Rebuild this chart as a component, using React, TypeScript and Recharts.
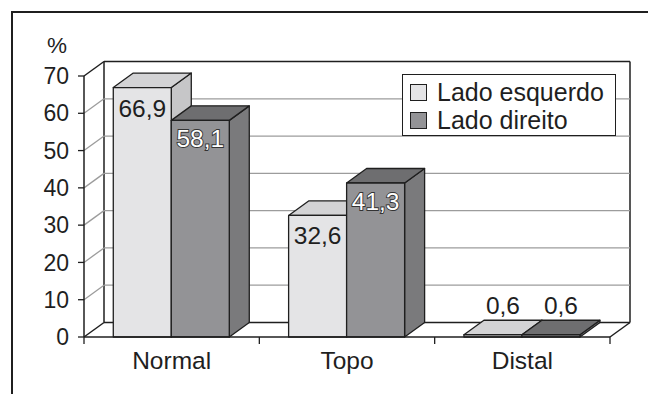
import React from 'react';
import { BarChart, Bar, XAxis, YAxis, CartesianGrid, Legend, LabelList, Label } from 'recharts';

// categories and percentages per side
const categories = ['Normal', 'Topo', 'Distal'];
const ladoEsquerdo = [66.9, 32.6, 0.6];
const ladoDireito = [58.1, 41.3, 0.6];
const yTicks = [0, 10, 20, 30, 40, 50, 60, 70];
const seriesNames = ['Lado esquerdo', 'Lado direito'];

const data = categories.map((name, i) => ({
  name,
  esquerdo: ladoEsquerdo[i],
  direito: ladoDireito[i],
}));

const W = 648;
const H = 394;
const MARGIN = { top: 76, right: 38, bottom: 17, left: 24 };
const Y_AXIS_W = 60;
const X_AXIS_H = 40;
const PLOT_LEFT = MARGIN.left + Y_AXIS_W;
const PLOT_RIGHT = W - MARGIN.right;
const PLOT_TOP = MARGIN.top;
const PLOT_BOTTOM = H - MARGIN.bottom - X_AXIS_H;
const BAND = (PLOT_RIGHT - PLOT_LEFT) / categories.length;

// depth of the fake 3D walls and boxes
const DX = 20;
const DY = 14.5;

const FONT = '"Liberation Sans", Arial, Helvetica, sans-serif';
const INK = '#1f1f1f';
const GRID = '#9c9c9c';

const LIGHT = { front: '#e4e4e6', top: '#d3d3d5', side: '#c6c6c8' };
const DARK = { front: '#939396', top: '#6e6e70', side: '#7a7a7c' };

const fmt = (v: number) => v.toFixed(1).replace('.', ',');

// back wall + left wall lines, one call per y tick
const wallLine = (props: any) => {
  const { x1, y1, x2, index } = props;
  const isFloor = Math.abs(y1 - PLOT_BOTTOM) < 0.5;
  const isTop = Math.abs(y1 - PLOT_TOP) < 0.5;
  const edge = isFloor || isTop;
  const stroke = edge ? INK : GRID;
  const sw = edge ? 1.5 : 1.3;
  return (
    <g key={`wall-${index}`}>
      <line x1={x1} y1={y1} x2={x1 + DX} y2={y1 - DY} stroke={stroke} strokeWidth={sw} />
      <line x1={x1 + DX} y1={y1 - DY} x2={x2 + DX} y2={y1 - DY} stroke={stroke} strokeWidth={sw} />
      {isFloor && (
        <>
          <line x1={x2} y1={y1} x2={x2 + DX} y2={y1 - DY} stroke={INK} strokeWidth={1.5} />
          <line x1={x1 + DX} y1={PLOT_TOP - DY} x2={x1 + DX} y2={y1 - DY} stroke={INK} strokeWidth={1.5} />
          <line x1={x2 + DX} y1={PLOT_TOP - DY} x2={x2 + DX} y2={y1 - DY} stroke={INK} strokeWidth={1.5} />
        </>
      )}
    </g>
  );
};

const Box3D = (props: any) => {
  const { x, y, width: w, height: h, palette } = props;
  if (w == null || h == null) return null;
  const edge = { stroke: INK, strokeWidth: 1.3, strokeLinejoin: 'round' as const };
  return (
    <g>
      <polygon
        points={`${x + w},${y} ${x + w + DX},${y - DY} ${x + w + DX},${y + h - DY} ${x + w},${y + h}`}
        fill={palette.side}
        {...edge}
      />
      <polygon
        points={`${x},${y} ${x + DX},${y - DY} ${x + w + DX},${y - DY} ${x + w},${y}`}
        fill={palette.top}
        {...edge}
      />
      <rect x={x} y={y} width={w} height={h} fill={palette.front} {...edge} />
    </g>
  );
};

const barLabel = (outlined: boolean) => (props: any) => {
  const { x, y, width, height, value, index } = props;
  const cx = x + width / 2;
  const text = fmt(Number(value));
  if (height < 30) {
    return (
      <text key={`lbl-${index}`} x={cx + DX / 2} y={y - 20.5} textAnchor="middle" fontSize={24.5} fill={INK} fontFamily={FONT}>
        {text}
      </text>
    );
  }
  if (outlined) {
    return (
      <text
        key={`lbl-${index}`}
        x={cx}
        y={y + 27}
        textAnchor="middle"
        fontSize={24.5}
        fill="#fff"
        stroke="#333"
        strokeWidth={1.8}
        paintOrder="stroke"
        fontFamily={FONT}
      >
        {text}
      </text>
    );
  }
  return (
    <text key={`lbl-${index}`} x={cx} y={y + 29} textAnchor="middle" fontSize={24.5} fill={INK} fontFamily={FONT}>
      {text}
    </text>
  );
};

// category name plus tick marks on the band boundaries
const CategoryTick = (props: any) => {
  const { x, payload, index } = props;
  const last = index === categories.length - 1;
  return (
    <g>
      <line x1={x - BAND / 2} y1={PLOT_BOTTOM} x2={x - BAND / 2} y2={PLOT_BOTTOM + 7} stroke={INK} strokeWidth={1.3} />
      {last && (
        <line x1={x + BAND / 2} y1={PLOT_BOTTOM} x2={x + BAND / 2} y2={PLOT_BOTTOM + 7} stroke={INK} strokeWidth={1.3} />
      )}
      <text x={x} y={PLOT_BOTTOM + 31.5} textAnchor="middle" fontSize={24.5} fill={INK} fontFamily={FONT}>
        {payload.value}
      </text>
    </g>
  );
};

const LegendBox = () => (
  <div
    style={{
      width: 214,
      height: 62,
      boxSizing: 'border-box',
      border: `1px solid ${INK}`,
      background: '#fff',
      fontFamily: FONT,
      fontSize: 25,
      color: INK,
      paddingTop: 3,
      paddingLeft: 7,
      whiteSpace: 'nowrap',
    }}
  >
    {seriesNames.map((n, i) => (
      <div key={n} style={{ display: 'flex', alignItems: 'center', height: 28, lineHeight: '28px' }}>
        <span
          style={{
            display: 'inline-block',
            width: 15,
            height: 15,
            border: `1px solid ${INK}`,
            background: i === 0 ? LIGHT.front : DARK.front,
            marginRight: 10,
          }}
        />
        {n}
      </div>
    ))}
  </div>
);

export default function App() {
  return (
    <div style={{ position: 'relative', width: W, height: H, background: '#fff' }}>
      <style>{'body{margin:0}'}</style>
      <BarChart
        width={W}
        height={H}
        data={data}
        margin={MARGIN}
        barCategoryGap="16.7%"
        barGap={0}
        style={{ fontFamily: FONT }}
      >
        <CartesianGrid vertical={false} horizontal={wallLine} />
        <XAxis
          dataKey="name"
          height={X_AXIS_H}
          interval={0}
          axisLine={{ stroke: INK, strokeWidth: 1.5 }}
          tickLine={false}
          tick={<CategoryTick />}
        />
        <YAxis
          width={Y_AXIS_W}
          domain={[0, 70]}
          ticks={yTicks}
          interval={0}
          axisLine={{ stroke: INK, strokeWidth: 1.5 }}
          tickLine={{ stroke: INK, strokeWidth: 1.3 }}
          tickSize={6}
          tickMargin={9}
          tick={{ fontSize: 23, fill: INK, fontFamily: FONT }}
        >
          <Label
            content={() => (
              <text x={57} y={52.5} textAnchor="middle" fontSize={22.5} fill={INK} fontFamily={FONT}>
                %
              </text>
            )}
          />
        </YAxis>
        <Legend
          layout="horizontal"
          align="center"
          verticalAlign="middle"
          content={() => <LegendBox />}
          wrapperStyle={{ top: 74, left: 402, width: 214, height: 62 }}
        />
        <Bar
          dataKey="esquerdo"
          name={seriesNames[0]}
          fill={LIGHT.front}
          isAnimationActive={false}
          shape={(p: any) => <Box3D {...p} palette={LIGHT} />}
        >
          <LabelList dataKey="esquerdo" content={barLabel(false)} />
        </Bar>
        <Bar
          dataKey="direito"
          name={seriesNames[1]}
          fill={DARK.front}
          isAnimationActive={false}
          shape={(p: any) => <Box3D {...p} palette={DARK} />}
        >
          <LabelList dataKey="direito" content={barLabel(true)} />
        </Bar>
      </BarChart>
      <div
        style={{
          position: 'absolute',
          left: 11,
          top: 11,
          width: W - 11,
          height: H - 11,
          borderTop: `2px solid ${INK}`,
          borderLeft: `2px solid ${INK}`,
          boxSizing: 'border-box',
          pointerEvents: 'none',
        }}
      />
    </div>
  );
}
